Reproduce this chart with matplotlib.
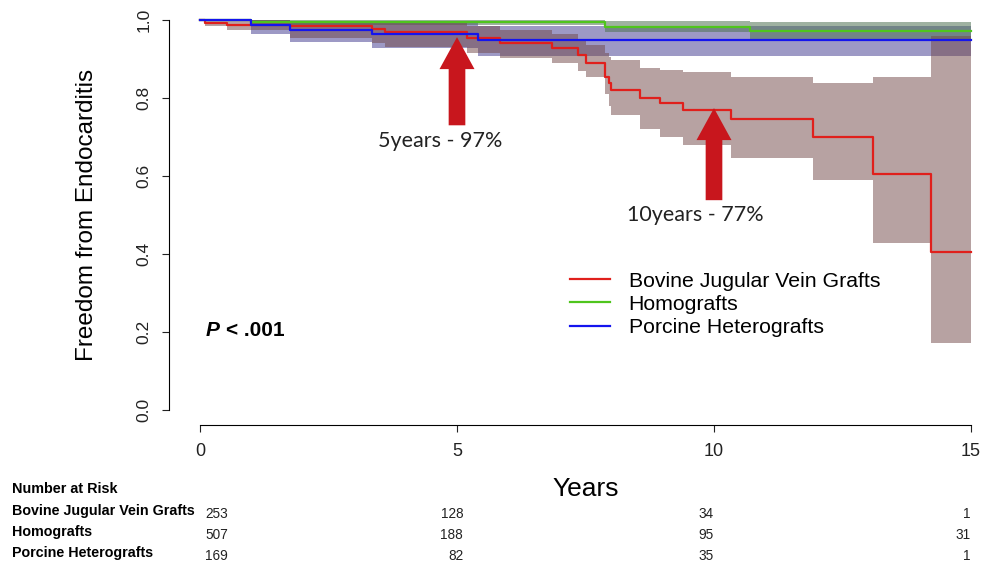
import matplotlib
matplotlib.use("Agg")
import matplotlib.pyplot as plt
import matplotlib.transforms as mtransforms

plt.rcParams['font.family'] = ['Liberation Sans', 'DejaVu Sans']

# ---------------- data ----------------
bjvg_t = [0, 0.1, 0.52, 1.76, 3.35, 3.6, 5.2, 5.84, 6.85, 7.35, 7.5, 7.88, 7.95, 8.0, 8.56, 8.95, 9.4, 10.33, 11.93, 13.1, 14.22, 15]
bjvg_s = [1.0, 0.992, 0.988, 0.985, 0.977, 0.970, 0.955, 0.94, 0.928, 0.91, 0.89, 0.855, 0.838, 0.82, 0.80, 0.787, 0.77, 0.745, 0.70, 0.605, 0.405, 0.405]
bjvg_lo = [1.0, 0.985, 0.975, 0.955, 0.94, 0.93, 0.915, 0.903, 0.89, 0.87, 0.853, 0.81, 0.78, 0.756, 0.72, 0.70, 0.68, 0.646, 0.59, 0.428, 0.172, 0.172]
bjvg_hi = [1.0, 1.0, 1.0, 0.998, 0.995, 0.992, 0.985, 0.975, 0.965, 0.95, 0.935, 0.915, 0.905, 0.897, 0.877, 0.872, 0.867, 0.854, 0.838, 0.854, 0.96, 0.96]

homo_t = [0, 1.0, 7.88, 10.7, 15]
homo_s = [1.0, 0.995, 0.982, 0.971, 0.971]
homo_lo = [1.0, 0.988, 0.968, 0.95, 0.95]
homo_hi = [1.0, 1.0, 0.998, 0.996, 0.996]

porc_t = [0, 1.0, 1.75, 3.35, 5.4, 15]
porc_s = [1.0, 0.987, 0.975, 0.965, 0.949, 0.949]
porc_lo = [1.0, 0.965, 0.944, 0.928, 0.908, 0.908]
porc_hi = [1.0, 1.0, 0.998, 0.993, 0.985, 0.985]

groups = ["Bovine Jugular Vein Grafts", "Homografts", "Porcine Heterografts"]
risk_times = [0, 5, 10, 15]
risk_bjvg = [253, 128, 34, 1]
risk_homo = [507, 188, 95, 31]
risk_porc = [169, 82, 35, 1]

x_ticks = [0, 5, 10, 15]
y_ticks = [0.0, 0.2, 0.4, 0.6, 0.8, 1.0]

# ---------------- figure ----------------
fig = plt.figure(figsize=(9.84, 5.68), dpi=100)
ax = fig.add_axes([200 / 984, 158 / 568, 771 / 984, 390 / 568])
ax.set_xlim(0, 15)
ax.set_ylim(0, 1)

line_colors = ["#e0201c", "#4fc51d", "#1414ee"]
fill_colors = [(113 / 255, 71 / 255, 71 / 255), (80 / 255, 115 / 255, 85 / 255), (60 / 255, 52 / 255, 140 / 255)]

ax.fill_between(porc_t, porc_lo, porc_hi, step='post', color=fill_colors[2], alpha=0.5, lw=0, clip_on=False)
ax.fill_between(homo_t, homo_lo, homo_hi, step='post', color=fill_colors[1], alpha=0.55, lw=0, clip_on=False)
ax.fill_between(bjvg_t, bjvg_lo, bjvg_hi, step='post', color=fill_colors[0], alpha=0.5, lw=0, clip_on=False)

ax.step(bjvg_t, bjvg_s, where='post', color=line_colors[0], lw=1.6, clip_on=False, label=groups[0])
ax.step(homo_t, homo_s, where='post', color=line_colors[1], lw=1.6, clip_on=False, label=groups[1])
ax.step(porc_t, porc_s, where='post', color=line_colors[2], lw=1.6, clip_on=False, label=groups[2])

# spines R-style
for s in ['top', 'right']:
    ax.spines[s].set_visible(False)
ax.spines['left'].set_position(('outward', 22))
ax.spines['bottom'].set_position(('outward', 11))
ax.spines['left'].set_bounds(0, 1)
ax.spines['bottom'].set_bounds(0, 15)
ax.set_xticks(x_ticks)
ax.set_yticks(y_ticks)
ax.set_yticklabels([f"{v:.1f}" for v in y_ticks], rotation=90, va='center')
ax.tick_params(axis='both', direction='out', length=5, width=0.8, colors='#222222')
ax.tick_params(axis='y', pad=8, labelsize=12.5)
ax.tick_params(axis='x', pad=8, labelsize=13)
ax.set_ylabel("Freedom from Endocarditis", fontsize=17.5, labelpad=28)
ax.set_xlabel("Years", fontsize=19, labelpad=12)

# legend
ax.legend(loc='upper left', bbox_to_anchor=(0.4665, 0.382), frameon=False, fontsize=15.3,
          handlelength=1.85, handletextpad=0.9, labelspacing=0.2, borderpad=0)

# P value
ax.text(0.1, 0.205, "P", fontsize=15, fontweight='bold', style='italic', va='center', ha='left')
ax.text(0.5, 0.205, "< .001", fontsize=15, fontweight='bold', va='center', ha='left')

# arrows
arrow_kw = dict(arrowstyle='simple,head_width=1.26,head_length=1.15,tail_width=0.6', color='#c8161d', lw=0)
ax.annotate("", xy=(5, 0.956), xytext=(5, 0.73), arrowprops=dict(**arrow_kw, mutation_scale=20, shrinkA=0, shrinkB=0))
ax.annotate("", xy=(10, 0.774), xytext=(10, 0.538), arrowprops=dict(**arrow_kw, mutation_scale=20, shrinkA=0, shrinkB=0))
ax.text(4.67, 0.69, "5years - 97%", fontsize=15.5, family=['Lato', 'DejaVu Sans'], ha='center', va='center', color='#222222')
ax.text(9.63, 0.50, "10years - 77%", fontsize=15.5, family=['Lato', 'DejaVu Sans'], ha='center', va='center', color='#222222')

# number at risk table
trans = mtransforms.blended_transform_factory(ax.transData, fig.transFigure)
fig.text(12 / 984, 1 - 489 / 568, "Number at Risk", fontsize=10.4, fontweight='bold', va='center', ha='left')
label_y = [511, 532, 553]
num_y = [514, 535, 556]
risks = [risk_bjvg, risk_homo, risk_porc]
for g, ly, ny, r in zip(groups, label_y, num_y, risks):
    fig.text(12 / 984, 1 - ly / 568, g, fontsize=10.3, fontweight='bold', va='center', ha='left')
    for i, (t, n) in enumerate(zip(risk_times, r)):
        if i == 0:
            ax.text(0.1, 1 - ny / 568, str(n), transform=trans, fontsize=9.8, ha='left', va='center', color='#222222')
        else:
            ax.text(t + (0.12 if t == 5 else 0.0), 1 - ny / 568, str(n), transform=trans, fontsize=9.8,
                    ha='right', va='center', color='#222222')

fig.savefig("out.png", dpi=100)
